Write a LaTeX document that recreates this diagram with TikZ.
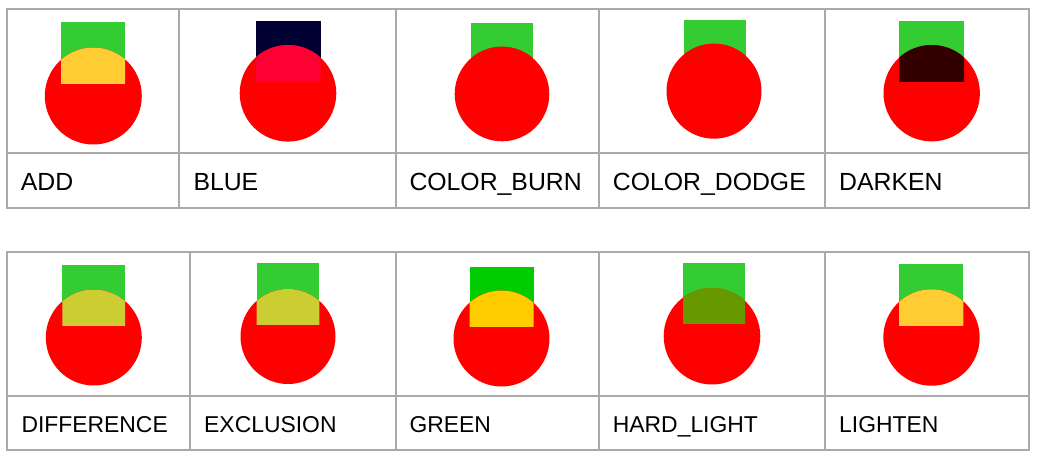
\documentclass[tikz,border=0pt]{standalone}
\usepackage{fontspec}
\setmainfont{Liberation Sans}
\usepackage{xcolor}
\usepackage{tikz}
\usetikzlibrary{positioning}

\definecolor{tablegray}{HTML}{AAAAAA}
\definecolor{sqgreen}{HTML}{33CC33}
\definecolor{puregreen}{HTML}{00CC00}
\definecolor{sqnavy}{HTML}{000033}
\definecolor{mixadd}{HTML}{FFCC33}
\definecolor{mixblue}{HTML}{FF0033}
\definecolor{mixdark}{HTML}{330000}
\definecolor{mixdiff}{HTML}{CCCC33}
\definecolor{mixgreen}{HTML}{FFCC00}
\definecolor{mixhard}{HTML}{669900}
\definecolor{discred}{HTML}{FF0000}

% square, then circle, then the overlap in its blended colour
\newcommand{\blendsample}[6]{%
  \fill[#5] #3 rectangle #4;
  \fill[discred] #1 circle[radius=#2];
  \begin{scope}
    \clip #3 rectangle #4;
    \fill[#6] #1 circle[radius=#2];
  \end{scope}}

\begin{document}
\begin{tikzpicture}[
  x=1pt, y=-1pt,
  grid/.style={draw=tablegray, line width=1.2pt},
  lbl/.style={anchor=base west, inner sep=0pt, font=\fontsize{24.8}{30}\selectfont},
  lblsmall/.style={lbl, font=\fontsize{22.9}{28}\selectfont}
]
\fill[white] (0,0) rectangle (1039,463);
\useasboundingbox (0,0) rectangle (1039,463);

% first table
\blendsample{(93.3,96)}{48.5pt}{(61,22)}{(125,83)}{sqgreen}{mixadd}
\blendsample{(288,93.3)}{48.3pt}{(256,20.7)}{(320.7,81)}{sqnavy}{mixblue}
\blendsample{(502,94)}{47.3pt}{(470.7,22.7)}{(532.7,82)}{sqgreen}{discred}
\blendsample{(714,91.2)}{47.5pt}{(684,20)}{(745.7,80)}{sqgreen}{discred}
\blendsample{(931.7,93.2)}{48.2pt}{(899.3,21.3)}{(964,81)}{sqgreen}{mixdark}

\draw[grid] (7,9) rectangle (1029,208);
\draw[grid] (7,153) -- (1029,153);
\foreach \x in {179,396,599,825} \draw[grid] (\x,9) -- (\x,208);

\node[lbl] (add) at (20.7,190) {ADD};
\node[lbl] (blue) at (193.3,190) {BLUE};
\node[lbl] (burn) at (409.3,190) {COLOR\_BURN};
\node[lbl] (dodge) at (612.7,190) {COLOR\_DODGE};
\node[lbl] (darken) at (839,190) {DARKEN};

% second table
\blendsample{(93.8,337.5)}{48pt}{(62.3,264.7)}{(125,325.7)}{sqgreen}{mixdiff}
\blendsample{(288,336.5)}{47.5pt}{(256.7,262.7)}{(319.3,324.3)}{sqgreen}{mixdiff}
\blendsample{(501.5,338.5)}{48pt}{(469.7,266.7)}{(533.7,326.7)}{puregreen}{mixgreen}
\blendsample{(712,336.2)}{48.3pt}{(683,263.3)}{(745,323.7)}{sqgreen}{mixhard}
\blendsample{(931.5,337.5)}{48.2pt}{(899,264.3)}{(963.3,325.3)}{sqgreen}{mixadd}

\draw[grid] (7,252) rectangle (1029,450);
\draw[grid] (7,396) -- (1029,396);
\foreach \x in {190,396,599,825} \draw[grid] (\x,252) -- (\x,450);

\node[lblsmall] (difference) at (21.3,432) {DIFFERENCE};
\node[lblsmall] (exclusion) at (204,432) {EXCLUSION};
\node[lblsmall] (green) at (409.3,432) {GREEN};
\node[lblsmall] (hardlight) at (612.7,432) {HARD\_LIGHT};
\node[lblsmall] (lighten) at (839,432) {LIGHTEN};
\end{tikzpicture}
\end{document}
